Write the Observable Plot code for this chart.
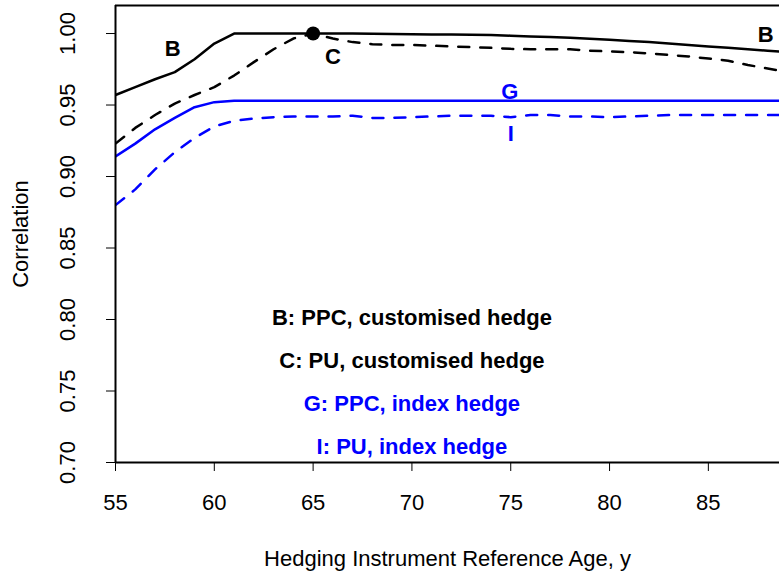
<!DOCTYPE html>
<html><head><meta charset="utf-8">
<script src="https://cdn.jsdelivr.net/npm/d3@7"></script>
<script src="https://cdn.jsdelivr.net/npm/@observablehq/plot@0.6"></script>
<style>body{margin:0;background:#fff} svg{display:block}</style>
</head><body><div id="chart"></div>
<script>
const ages = [55,56,57,58,59,60,61,62,63,64,65,66,67,68,69,70,71,72,73,74,75,76,77,78,79,80,81,82,83,84,85,86,87,88,89,90];
const ppcCustomised = [0.957,0.9625,0.968,0.973,0.982,0.993,1.0,1.0,1.0,1.0,1.0,1.0,1.0,0.9998,0.9997,0.9995,0.9994,0.9993,0.9992,0.999,0.9985,0.998,0.9975,0.997,0.9963,0.9956,0.9948,0.994,0.993,0.992,0.991,0.990,0.989,0.988,0.987,0.986];
const puCustomised = [0.923,0.934,0.943,0.951,0.957,0.9625,0.9706,0.980,0.989,0.9965,1.0,0.9965,0.994,0.9925,0.992,0.992,0.9915,0.991,0.9905,0.990,0.9893,0.989,0.989,0.989,0.988,0.9875,0.987,0.986,0.985,0.984,0.9825,0.981,0.978,0.9755,0.973,0.970];
const ppcIndex = [0.914,0.923,0.933,0.941,0.9485,0.952,0.953,0.953,0.953,0.953,0.953,0.953,0.953,0.953,0.953,0.953,0.953,0.953,0.953,0.953,0.953,0.953,0.953,0.953,0.953,0.953,0.953,0.953,0.953,0.953,0.953,0.953,0.953,0.953,0.953,0.953];
const puIndex = [0.880,0.891,0.905,0.917,0.927,0.935,0.939,0.9405,0.9415,0.942,0.942,0.942,0.9425,0.941,0.941,0.9415,0.942,0.9425,0.9425,0.9425,0.9415,0.943,0.943,0.942,0.942,0.9415,0.942,0.9425,0.943,0.943,0.943,0.943,0.943,0.943,0.943,0.943];

const xTicks = [55,60,65,70,75,80,85];
const yTicks = [0.70,0.75,0.80,0.85,0.90,0.95,1.00];
const xDomain = [55, 88.6];
const yDomain = [0.70, 1.0196];
const xTitle = "Hedging Instrument Reference Age, y";
const yTitle = "Correlation";

const curveLabels = [
  {x: 57.9, y: 0.9895, text: "B", color: "#000000"},
  {x: 66.0, y: 0.9835, text: "C", color: "#000000"},
  {x: 87.9, y: 0.9993, text: "B", color: "#000000"},
  {x: 74.95, y: 0.9592, text: "G", color: "#0000FF"},
  {x: 75.0, y: 0.930, text: "I", color: "#0000FF"}
];
const keyLines = [
  {x: 70, y: 0.8012, text: "B: PPC, customised hedge", color: "#000000"},
  {x: 70, y: 0.7712, text: "C: PU, customised hedge", color: "#000000"},
  {x: 70, y: 0.7412, text: "G: PPC, index hedge", color: "#0000FF"},
  {x: 70, y: 0.7112, text: "I: PU, index hedge", color: "#0000FF"}
];
const markerPoint = [{x: 65, y: 1.0}];

const toRows = (vals) => ages.map((a, i) => ({age: a, r: vals[i]}));

const chart = Plot.plot({
  width: 779, height: 574,
  marginLeft: 115, marginRight: 0, marginTop: 5, marginBottom: 112,
  style: {fontFamily: "'Liberation Sans', Arial, sans-serif", fontSize: "22px", color: "#000", background: "#fff"},
  x: {domain: xDomain},
  y: {domain: yDomain},
  marks: [
    Plot.axisX({ticks: xTicks, tickSize: 9, tickPadding: 23, tickFormat: d => String(d), label: xTitle, labelAnchor: "center", labelOffset: 103, labelArrow: "none", fontSize: 22}),
    Plot.axisY({ticks: yTicks, tickSize: 9, tickRotate: -90, tickPadding: 32, tickFormat: d => d.toFixed(2), label: yTitle, labelAnchor: "center", labelOffset: 103, labelArrow: "none", fontSize: 22}),
    Plot.line(toRows(ppcCustomised), {x: "age", y: "r", stroke: "#000", strokeWidth: 2.5, clip: true}),
    Plot.line(toRows(puCustomised), {x: "age", y: "r", stroke: "#000", strokeWidth: 2.5, strokeDasharray: "11,11", clip: true}),
    Plot.line(toRows(ppcIndex), {x: "age", y: "r", stroke: "#0000FF", strokeWidth: 2.5, clip: true}),
    Plot.line(toRows(puIndex), {x: "age", y: "r", stroke: "#0000FF", strokeWidth: 2.5, strokeDasharray: "11,11", clip: true}),
    Plot.dot(markerPoint, {x: "x", y: "y", r: 7, fill: "#000"}),
    Plot.text(curveLabels, {x: "x", y: "y", text: "text", fill: "color", fontWeight: "bold", fontSize: 22}),
    Plot.text(keyLines, {x: "x", y: "y", text: "text", fill: "color", fontWeight: "bold", fontSize: 22}),
    Plot.ruleX([xDomain[0]], {stroke: "#000", strokeWidth: 2}),
    Plot.ruleY(yDomain, {stroke: "#000", strokeWidth: 2})
  ]
});
document.getElementById("chart").appendChild(chart);
</script>
</body></html>
